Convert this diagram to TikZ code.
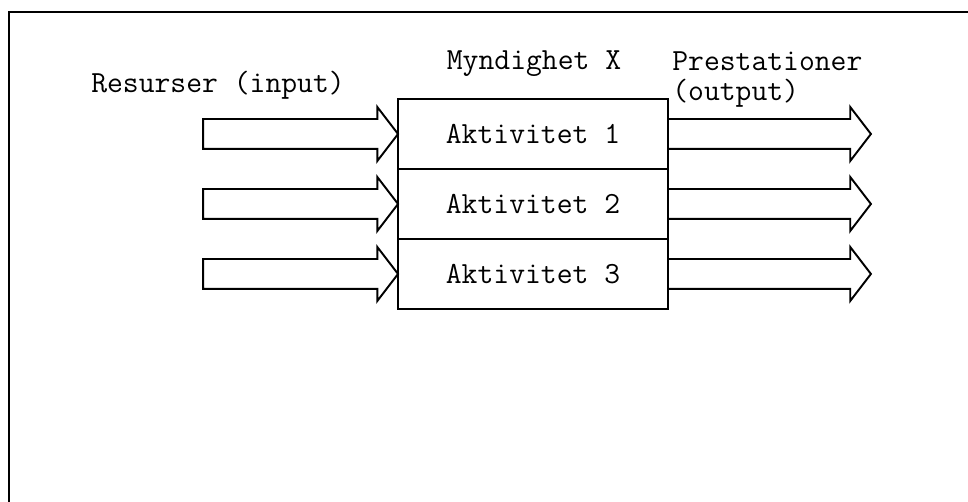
\documentclass[tikz,border=0pt]{standalone}
\usepackage{fontspec}
\usetikzlibrary{positioning,shapes.arrows}

\tikzset{
  aktbox/.style={draw, line width=1.1pt, minimum width=5.4cm, minimum height=1.4cm,
    inner sep=0pt, outer sep=0pt, font=\ttfamily\fontsize{17.5}{18}\selectfont},
  flow/.style={single arrow, draw, line width=1.1pt, inner xsep=0pt, inner ysep=0.28cm,
    outer sep=0pt, single arrow head extend=0.24cm, single arrow tip angle=105},
  lbl/.style={inner sep=0pt, font=\ttfamily\fontsize{17.5}{18}\selectfont}
}

\begin{document}
\begin{tikzpicture}[x=0.02cm, y=-0.02cm]
  \useasboundingbox (0,0) rectangle (968,502);
  % frame, only top and left side
  \draw[line width=1.1pt] (9,502) |- (968,12);

  % the authority with its three activities
  \node[aktbox] (akt1) at (533,134) {Aktivitet 1};
  \node[aktbox, below=0pt of akt1] (akt2) {Aktivitet 2};
  \node[aktbox, below=0pt of akt2] (akt3) {Aktivitet 3};

  % resources in, results out
  \foreach \i in {1,2,3} {
    \node[flow, minimum height=3.9cm, anchor=tip] (in\i) at (akt\i.west) {};
    \node[flow, minimum height=4.06cm, anchor=tail] (out\i) at (akt\i.east) {};
  }

  \node[lbl] (resurser) at (218,85) {Resurser (input)};
  \node[lbl] (myndighet) at (534,64) {Myndighet X};
  \node[lbl, anchor=base west] (prest) at (672,71) {Prestationer};
  \node[lbl, anchor=base west] (output) at (672,101) {(output)};
\end{tikzpicture}
\end{document}
